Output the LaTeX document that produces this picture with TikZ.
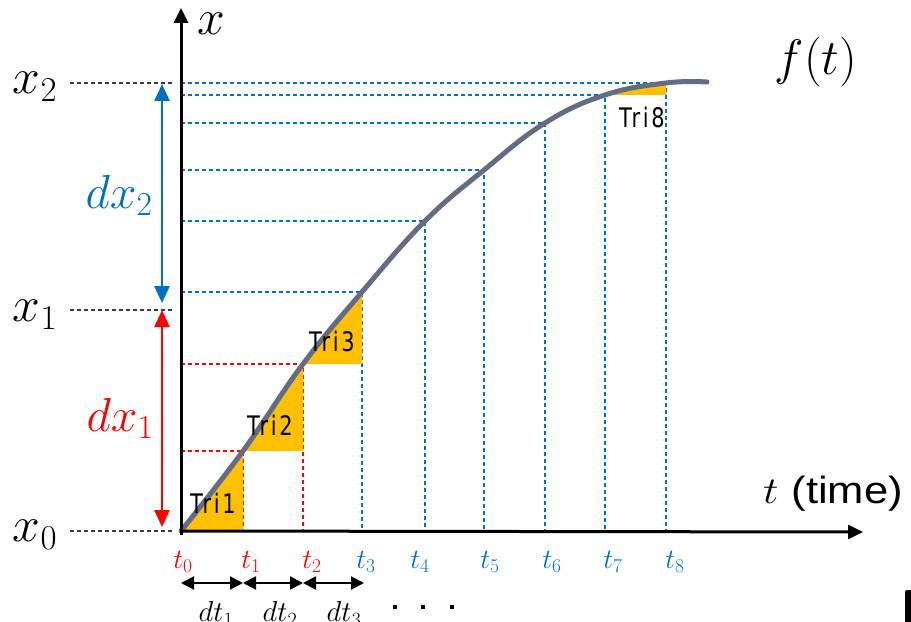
\RequirePackage{fix-cm}
\documentclass[tikz,border=0pt]{standalone}
\usepackage{fontspec}
\newfontfamily\trifont[FakeStretch=0.78,LetterSpace=10]{DejaVu Sans}
\newfontfamily\arialfont{Liberation Sans}
\usetikzlibrary{arrows.meta}
\definecolor{myblue}{RGB}{0,112,192}
\definecolor{myred}{RGB}{255,0,0}
\definecolor{myorange}{RGB}{255,192,0}
\definecolor{curvecol}{RGB}{100,108,132}
\definecolor{guidecol}{RGB}{60,60,60}
\tikzset{
  guide/.style={guidecol, line width=1.2bp, dash pattern=on 4bp off 3bp},
  bdash/.style={myblue, line width=1.3bp, dash pattern=on 4bp off 3bp},
  rdash/.style={myred, line width=1.3bp, dash pattern=on 4bp off 3bp},
  axisline/.style={line width=3bp, -{Triangle[length=15bp,width=14bp]}},
  dtarrow/.style={line width=2bp, {Triangle[length=13bp,width=13bp]}-{Triangle[length=13bp,width=13bp]}},
  dxarrow/.style={line width=2.5bp, {Triangle[length=17bp,width=15bp]}-{Triangle[length=17bp,width=15bp]}},
  trilabel/.style={font=\trifont\fontsize{27}{30}\selectfont, inner sep=0pt},
  tlab/.style={font=\fontsize{28}{32}\selectfont, inner sep=0pt},
  biglab/.style={font=\fontsize{50}{56}\selectfont, inner sep=0pt},
  dxlab/.style={font=\fontsize{48}{54}\selectfont, inner sep=0pt},
  dtlab/.style={font=\fontsize{29}{34}\selectfont, inner sep=0pt},
  dotsq/.style={fill=black, minimum size=4bp, inner sep=0pt},
}
\begin{document}
\begin{tikzpicture}[x=1bp,y=-1bp]
\useasboundingbox (0,0) rectangle (911,622);
% key coordinates
\coordinate (O) at (181,531);
\coordinate (ybot) at (181,535);
\coordinate (ytop) at (181,8);
\coordinate (xend) at (863,532);
\coordinate (p0) at (181,531);
\coordinate (p1) at (243,451);
\coordinate (p2) at (303,364);
\coordinate (p3) at (362,292);
\coordinate (p4) at (425,221);
\coordinate (p5) at (484,170);
\coordinate (p6) at (545,123);
\coordinate (p7) at (605,95);
\coordinate (p8) at (666,83);
\coordinate (pend) at (707,82);
\foreach \i in {1,...,8}{
  \coordinate (b\i) at (p\i |- O);
  \coordinate (a\i) at (p\i -| O);
}
% dashed projections
\foreach \i in {1,2}{
  \draw[rdash] (a\i) -- (p\i) -- (b\i);
}
\foreach \i in {3,...,8}{
  \draw[bdash] (a\i) -- (p\i) -- (b\i);
}
% triangles
\fill[myorange] (p0) -- (b1) -- (p1) -- cycle;
\fill[myorange] (p1) -- (p1 -| p2) -- (p2) -- cycle;
\fill[myorange] (p2) -- (p2 -| p3) -- (p3) -- cycle;
\fill[myorange] (p7) -- (p7 -| p8) -- (p8) -- cycle;
% curve
\draw[curvecol, line width=5bp, line cap=round, line join=round]
  plot[smooth, tension=0.7] coordinates {(p0) (p1) (p2) (p3) (p4) (p5) (p6) (p7) (p8) (pend)};
% guides for x0,x1,x2
\coordinate (g2l) at (70,83);  \coordinate (g2r) at (175,83);
\coordinate (g1l) at (70,310); \coordinate (g1r) at (175,310);
\coordinate (g0l) at (70,531); \coordinate (g0r) at (175,531);
\draw[guide] (g2l) -- (g2r);
\draw[guide] (g1l) -- (g1r);
\draw[guide] (g0l) -- (g0r);
% axes
\draw[axisline] (ybot) -- (ytop);
\draw[axisline] (O) -- (xend);
% dx arrows
\coordinate (dx2t) at (162,84);  \coordinate (dx2b) at (162,303);
\coordinate (dx1t) at (162,310); \coordinate (dx1b) at (162,527);
\draw[dxarrow, myblue] (dx2t) -- (dx2b);
\draw[dxarrow, myred] (dx1t) -- (dx1b);
% dt arrows
\coordinate (d0) at (181,583);
\coordinate (d1) at (243,583);
\coordinate (d2) at (303,583);
\coordinate (d3) at (364,583);
\draw[dtarrow] (d0) -- (d1);
\draw[dtarrow] (d1) -- (d2);
\draw[dtarrow] (d2) -- (d3);
% labels
\node[biglab] (lx) at (211,24) {$x$};
\node[biglab] (lf) at (816,62) {$f(t)$};
\node[inner sep=0pt, font=\fontsize{38}{42}\selectfont] (ltime) at (833,494) {\scalebox{1.15}[1]{$t$ {\arialfont (time)}}};
\node[biglab] (lx2) at (35,87) {$x_2$};
\node[biglab] (lx1) at (35,315) {$x_1$};
\node[biglab] (lx0) at (35,535) {$x_0$};
\node[dxlab, myblue] (ldx2) at (119,195) {$dx_2$};
\node[dxlab, myred] (ldx1) at (120,418) {$dx_1$};
\node[trilabel] (tri1) at (213,503) {Tri1};
\node[trilabel] (tri2) at (270,425) {Tri2};
\node[trilabel] (tri3) at (332,341) {Tri3};
\node[trilabel] (tri8) at (642,117) {Tri8};
\node[tlab, myred] (t0) at (183,562) {$t_0$};
\node[tlab, myred] (t1) at (251,562) {$t_1$};
\node[tlab, myred] (t2) at (312,562) {$t_2$};
\node[tlab, myblue] (t3) at (366,562) {$t_3$};
\node[tlab, myblue] (t4) at (420,562) {$t_4$};
\node[tlab, myblue] (t5) at (490,562) {$t_5$};
\node[tlab, myblue] (t6) at (552,562) {$t_6$};
\node[tlab, myblue] (t7) at (613,562) {$t_7$};
\node[tlab, myblue] (t8) at (675,562) {$t_8$};
\node[dtlab] (dt1) at (216,614) {$dt_1$};
\node[dtlab] (dt2) at (280,614) {$dt_2$};
\node[dtlab] (dt3) at (344,614) {$dt_3$};
\node[dotsq] (dot1) at (395,607) {};
\node[dotsq] (dot2) at (423,607) {};
\node[dotsq] (dot3) at (452,607) {};
% partial shape at bottom right edge
\fill[black, rounded corners=2bp] (905,590) rectangle (913,625);
\end{tikzpicture}
\end{document}
